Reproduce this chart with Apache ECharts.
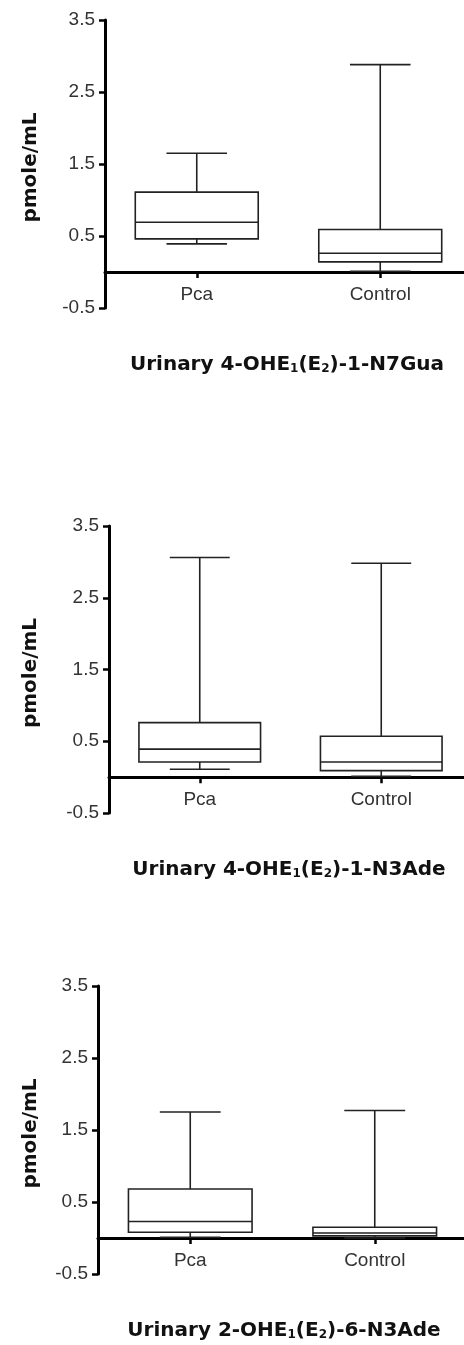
<!DOCTYPE html>
<html>
<head>
<meta charset="utf-8">
<script src="https://cdn.jsdelivr.net/npm/echarts@6/dist/echarts.min.js"></script>
<style>
html,body{margin:0;padding:0;background:#fff;}
#chart{width:464px;height:1345px;}
</style>
</head>
<body>
<div id="chart"></div>
<script>
// Categories
const categories = ['Pca', 'Control'];
// Y tick settings (labels at -0.5, 0.5, 1.5, 2.5, 3.5)
const yMin = -0.5, yMax = 3.5, yStep = 1;
const yAxisName = 'pmole/mL';

// Box data per panel: [min, Q1, median, Q3, max] for Pca, Control
const panel1Pca = [0.39, 0.46, 0.69, 1.11, 1.65];
const panel1Control = [0.01, 0.14, 0.26, 0.59, 2.88];
const panel2Pca = [0.11, 0.21, 0.39, 0.76, 3.06];
const panel2Control = [0.01, 0.09, 0.21, 0.57, 2.98];
const panel3Pca = [0.01, 0.08, 0.23, 0.68, 1.75];
const panel3Control = [0.00, 0.03, 0.07, 0.15, 1.77];

// Panel titles (rich text parts)
const title1 = ['Urinary 4-OHE', '1', '(E', '2', ')-1-N7Gua'];
const title2 = ['Urinary 4-OHE', '1', '(E', '2', ')-1-N3Ade'];
const title3 = ['Urinary 2-OHE', '1', '(E', '2', ')-6-N3Ade'];

const panels = [
  { pca: panel1Pca, ctl: panel1Control, title: title1 },
  { pca: panel2Pca, ctl: panel2Control, title: title2 },
  { pca: panel3Pca, ctl: panel3Control, title: title3 }
];

// Layout (positions only)
const grids = [
  { left: 105, top: 20, width: 367, height: 288 },
  { left: 109, top: 526, width: 363, height: 287 },
  { left: 98, top: 986, width: 369, height: 288 }
];
const nameGaps = [64, 68, 57];
const titlePos = [[287, 362], [289, 867], [284, 1328]];

const LINE = '#222';
function renderBox(params, api) {
  const xi = api.value(0);
  const pMin = api.coord([xi, api.value(1)]);
  const cx = pMin[0];
  const yMinP = pMin[1];
  const yQ1 = api.coord([xi, api.value(2)])[1];
  const yMed = api.coord([xi, api.value(3)])[1];
  const yQ3 = api.coord([xi, api.value(4)])[1];
  const yMaxP = api.coord([xi, api.value(5)])[1];
  const band = api.size([1, 0])[0];
  const bw = band * 0.67, cw = band * 0.33;
  const ls = { stroke: LINE, lineWidth: 1.6, fill: null };
  return {
    type: 'group',
    children: [
      { type: 'line', shape: { x1: cx, y1: yMaxP, x2: cx, y2: yQ3 }, style: ls },
      { type: 'line', shape: { x1: cx, y1: yQ1, x2: cx, y2: yMinP }, style: ls },
      { type: 'line', shape: { x1: cx - cw / 2, y1: yMaxP, x2: cx + cw / 2, y2: yMaxP }, style: ls },
      { type: 'line', shape: { x1: cx - cw / 2, y1: yMinP, x2: cx + cw / 2, y2: yMinP }, style: ls },
      { type: 'rect', shape: { x: cx - bw / 2, y: yQ3, width: bw, height: yQ1 - yQ3 }, style: { stroke: LINE, lineWidth: 1.6, fill: '#fff' } },
      { type: 'line', shape: { x1: cx - bw / 2, y1: yMed, x2: cx + bw / 2, y2: yMed }, style: ls }
    ]
  };
}

const option = {
  animation: false,
  backgroundColor: '#fff',
  grid: grids.map(g => Object.assign({ containLabel: false, outerBoundsMode: 'none' }, g)),
  xAxis: panels.map((p, i) => ({
    type: 'category',
    gridIndex: i,
    data: categories,
    boundaryGap: true,
    position: 'bottom',
    // place the axis at value 0: offset upward by the share of the range below zero
    offset: -grids[i].height * (0 - yMin) / (yMax - yMin),
    axisLine: { onZero: false, lineStyle: { color: '#000', width: 3 } },
    axisTick: { show: true, alignWithLabel: true, length: 6, lineStyle: { color: '#000', width: 2.5 } },
    axisLabel: { margin: 13, fontFamily: 'Liberation Sans, Arial, sans-serif', fontSize: 19, color: '#333' },
    splitLine: { show: false }
  })),
  yAxis: panels.map((p, i) => ({
    type: 'value',
    gridIndex: i,
    min: yMin,
    max: yMax,
    interval: yStep,
    name: yAxisName,
    nameLocation: 'middle',
    nameRotate: 90,
    nameGap: nameGaps[i],
    nameTextStyle: { fontFamily: 'DejaVu Sans, sans-serif', fontWeight: 'bold', fontSize: 20, color: '#111', padding: [0, 7, 0, 0] },
    axisLine: { show: true, lineStyle: { color: '#000', width: 3 } },
    axisTick: { show: true, length: 6, lineStyle: { color: '#000', width: 2.5 } },
    axisLabel: { margin: 10, fontFamily: 'Liberation Sans, Arial, sans-serif', fontSize: 19, color: '#333',
      formatter: v => (Math.round(v * 10) / 10).toFixed(1) },
    splitLine: { show: false }
  })),
  series: panels.map((p, i) => ({
    type: 'custom',
    xAxisIndex: i,
    yAxisIndex: i,
    renderItem: renderBox,
    encode: { x: 0, y: [1, 2, 3, 4, 5] },
    data: [[0].concat(p.pca), [1].concat(p.ctl)],
    z: 3
  })),
  graphic: panels.map((p, i) => ({
    type: 'text',
    x: titlePos[i][0],
    y: titlePos[i][1],
    style: {
      text: '{b|' + p.title[0] + '}{s|' + p.title[1] + '}{b|' + p.title[2] + '}{s|' + p.title[3] + '}{b|' + p.title[4] + '}',
      align: 'center',
      verticalAlign: 'middle',
      fill: '#111',
      rich: {
        b: { fontFamily: 'DejaVu Sans, sans-serif', fontWeight: 'bold', fontSize: 20, lineHeight: 26, verticalAlign: 'bottom', fill: '#111' },
        s: { fontFamily: 'DejaVu Sans, sans-serif', fontWeight: 'bold', fontSize: 12, lineHeight: 12, verticalAlign: 'bottom', fill: '#111' }
      }
    }
  }))
};

const chart = echarts.init(document.getElementById('chart'), null, { renderer: 'canvas' });
chart.setOption(option);
</script>
</body>
</html>
